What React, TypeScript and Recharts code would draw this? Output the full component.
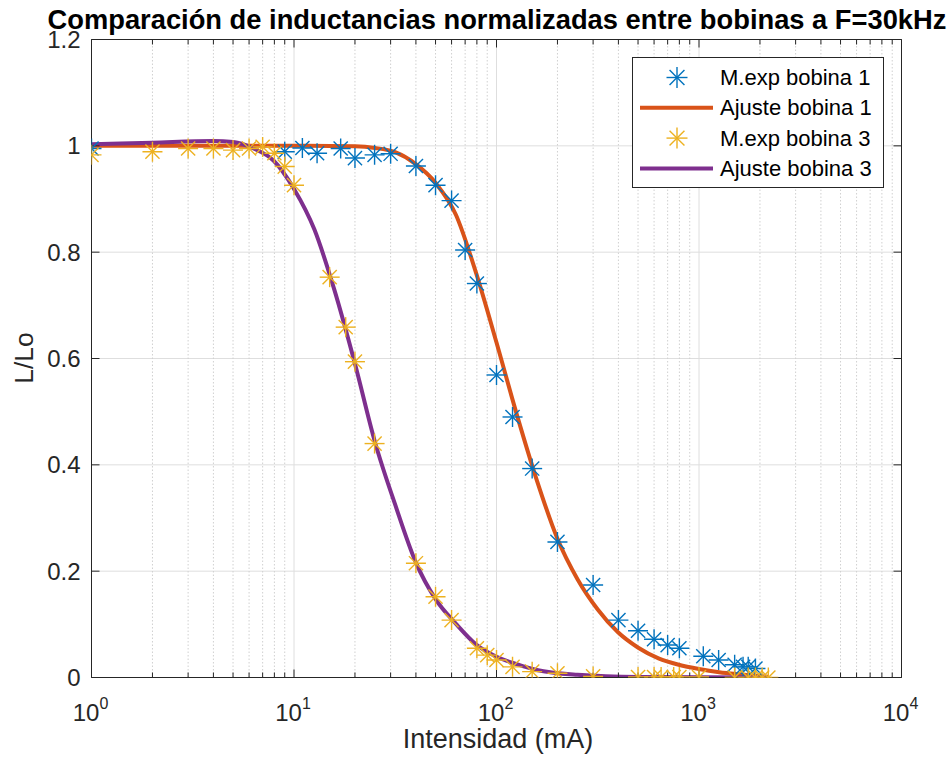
import {
  ComposedChart,
  Line,
  Scatter,
  XAxis,
  YAxis,
  CartesianGrid,
  ReferenceLine,
  Legend,
  Customized,
} from 'recharts';

const FUENTE = '"Liberation Sans", Arial, Helvetica, sans-serif';
const EJE = '#262626';
const AZUL = '#0072BD';
const NARANJA = '#D95319';
const AMARILLO = '#EDB120';
const MORADO = '#7E2F8E';

// Bobina 1: medidas experimentales (mA, L/Lo)
const intensidad1 = [1, 9, 11, 13, 17, 20, 25, 30, 40, 50, 60, 70, 80, 100, 120, 150, 200, 300, 400, 500, 600, 700, 800, 1050, 1250, 1500, 1650, 1750, 1900];
const relacion1 = [0.995, 0.989, 0.996, 0.986, 0.995, 0.977, 0.983, 0.985, 0.962, 0.926, 0.897, 0.804, 0.741, 0.569, 0.49, 0.393, 0.255, 0.174, 0.108, 0.088, 0.072, 0.061, 0.055, 0.04, 0.033, 0.024, 0.02, 0.02, 0.017];

// Bobina 1: curva de ajuste
const ajusteI1 = [1, 3.16, 10, 20, 25.1, 31.6, 39.8, 50.1, 63.1, 79.4, 100, 125.9, 158.5, 199.5, 251.2, 316.2, 398.1, 501.2, 631, 794.3, 1000, 1258.9, 1584.9, 2188];
const ajusteL1 = [1, 1, 1, 0.999, 0.996, 0.988, 0.966, 0.93, 0.87, 0.76, 0.63, 0.495, 0.37, 0.262, 0.185, 0.128, 0.085, 0.056, 0.036, 0.024, 0.016, 0.01, 0.006, 0.0015];

// Bobina 3: medidas experimentales
const intensidad3 = [1, 2, 3, 4, 5, 6, 7, 8, 9, 10, 15, 18, 20, 25, 40, 50, 60, 80, 90, 100, 120, 150, 200, 300, 500, 600, 650, 750, 800, 1000, 1500, 1750, 1900, 2050, 2200];
const relacion3 = [0.983, 0.989, 0.995, 0.995, 0.992, 0.995, 0.998, 0.986, 0.961, 0.926, 0.753, 0.659, 0.594, 0.44, 0.215, 0.152, 0.108, 0.055, 0.042, 0.033, 0.02, 0.011, 0.008, 0.002, 0.001, 0.001, 0.001, 0.001, 0.001, 0.001, 0, 0, 0, 0, 0];

// Bobina 3: curva de ajuste
const ajusteI3 = [1, 2, 3.98, 5.01, 6.31, 7.94, 10, 12.6, 15.8, 20, 25.1, 31.6, 39.8, 50.1, 63.1, 79.4, 100, 126, 158, 251, 501, 2188];
const ajusteL3 = [1.003, 1.006, 1.009, 1.007, 0.995, 0.972, 0.919, 0.843, 0.73, 0.59, 0.443, 0.325, 0.218, 0.147, 0.101, 0.062, 0.039, 0.025, 0.014, 0.005, 0.001, 0];

const ticksX = [1, 10, 100, 1000, 10000];
const ticksY = [0, 0.2, 0.4, 0.6, 0.8, 1, 1.2];
const menoresX = [1, 10, 100, 1000].flatMap((d) => [2, 3, 4, 5, 6, 7, 8, 9].map((k) => d * k));

const leyenda = [
  { nombre: 'M.exp bobina 1', color: AZUL, marca: true },
  { nombre: 'Ajuste bobina 1', color: NARANJA, marca: false },
  { nombre: 'M.exp bobina 3', color: AMARILLO, marca: true },
  { nombre: 'Ajuste bobina 3', color: MORADO, marca: false },
];

const zip = (xs: number[], ys: number[]) => xs.map((x, i) => ({ x, y: ys[i] }));

// tamaño del área de ejes en píxeles, para las marcas interiores
const ANCHO_DECADA = 202.5;
const ALTO_EJE = 638;
const largoX = (px: number) => 10 ** (px / ANCHO_DECADA);
const largoY = (px: number) => (1.2 * px) / ALTO_EJE;

const Asterisco = ({ cx, cy, color, r = 10 }: { cx: number; cy: number; color: string; r?: number }) => {
  const d = r * 0.7071;
  return (
    <g stroke={color} strokeWidth={1.4}>
      <line x1={cx - r} y1={cy} x2={cx + r} y2={cy} />
      <line x1={cx} y1={cy - r} x2={cx} y2={cy + r} />
      <line x1={cx - d} y1={cy - d} x2={cx + d} y2={cy + d} />
      <line x1={cx - d} y1={cy + d} x2={cx + d} y2={cy - d} />
    </g>
  );
};

const TickX = (props: any) => {
  const { x, payload } = props;
  const exp = Math.round(Math.log10(payload.value));
  return (
    <text x={x - 1} y={721} textAnchor="middle" fontSize={24} fill={EJE} fontFamily={FUENTE}>
      10
      <tspan dy={-12} fontSize={16}>
        {exp}
      </tspan>
    </text>
  );
};

const TickY = (props: any) => {
  const { y, payload } = props;
  return (
    <text x={80.5} y={y + 8.5} textAnchor="end" fontSize={24} fill={EJE} fontFamily={FUENTE}>
      {String(payload.value)}
    </text>
  );
};

const Leyenda = () => (
  <svg width={252} height={131} style={{ display: 'block' }}>
    <rect x={0.5} y={0.5} width={251} height={130} fill="#fff" stroke={EJE} />
    {leyenda.map((e, i) => {
      const cy = 20.5 + i * 30.3;
      return (
        <g key={e.nombre}>
          {e.marca ? (
            <Asterisco cx={45} cy={cy} color={e.color} r={10.5} />
          ) : (
            <line x1={8} y1={cy} x2={81} y2={cy} stroke={e.color} strokeWidth={4} />
          )}
          <text x={88} y={cy + 7.5} fontSize={22} fill="#000" fontFamily={FUENTE}>
            {e.nombre}
          </text>
        </g>
      );
    })}
  </svg>
);

const Textos = () => (
  <g fontFamily={FUENTE} fill={EJE}>
    <text x={497} y={29} textAnchor="middle" fontSize={27.3} fontWeight="bold" fill="#000">
      Comparación de inductancias normalizadas entre bobinas a F=30kHz
    </text>
    <text x={498} y={748} textAnchor="middle" fontSize={27}>
      Intensidad (mA)
    </text>
    <text x={33} y={358} textAnchor="middle" fontSize={26.4} transform="rotate(-90 33 358)">
      L/Lo
    </text>
  </g>
);

export default function App() {
  return (
    <div style={{ position: 'absolute', left: 0, top: 0, width: 950, height: 763, background: '#fff' }}>
      <ComposedChart width={950} height={763} margin={{ top: 39.5, right: 48.5, bottom: 0, left: 0 }}>
        <CartesianGrid stroke="#dedede" />
        <XAxis
          type="number"
          dataKey="x"
          scale="log"
          domain={[1, 10000]}
          ticks={ticksX}
          interval={0}
          allowDataOverflow
          height={85.5}
          tick={<TickX />}
          tickLine={false}
          axisLine={{ stroke: EJE }}
        />
        <YAxis
          type="number"
          dataKey="y"
          domain={[0, 1.2]}
          ticks={ticksY}
          interval={0}
          allowDataOverflow
          width={91.5}
          tick={<TickY />}
          tickLine={false}
          axisLine={{ stroke: EJE }}
        />

        {/* rejilla menor punteada */}
        {menoresX.map((v) => (
          <ReferenceLine key={`g-${v}`} x={v} stroke="#d0d0d0" strokeDasharray="1.5 2" />
        ))}

        <Scatter
          name="M.exp bobina 1"
          data={zip(intensidad1, relacion1)}
          fill={AZUL}
          shape={(p: any) => <Asterisco cx={p.cx} cy={p.cy} color={AZUL} />}
          isAnimationActive={false}
        />
        <Line
          name="Ajuste bobina 1"
          data={zip(ajusteI1, ajusteL1)}
          dataKey="y"
          type="monotone"
          stroke={NARANJA}
          strokeWidth={4}
          dot={false}
          activeDot={false}
          isAnimationActive={false}
        />
        <Scatter
          name="M.exp bobina 3"
          data={zip(intensidad3, relacion3)}
          fill={AMARILLO}
          shape={(p: any) => <Asterisco cx={p.cx} cy={p.cy} color={AMARILLO} />}
          isAnimationActive={false}
        />
        <Line
          name="Ajuste bobina 3"
          data={zip(ajusteI3, ajusteL3)}
          dataKey="y"
          type="monotone"
          stroke={MORADO}
          strokeWidth={4}
          dot={false}
          activeDot={false}
          isAnimationActive={false}
        />

        {/* caja de los ejes */}
        <ReferenceLine y={1.2} stroke={EJE} />
        <ReferenceLine x={10000} stroke={EJE} />

        {/* marcas interiores del eje x, abajo y arriba */}
        {[...ticksX.map((v) => [v, 8]), ...menoresX.map((v) => [v, 5])].flatMap(([v, px]) => [
          <ReferenceLine
            key={`xb-${v}`}
            segment={[{ x: v, y: 0 }, { x: v, y: largoY(px) }]}
            stroke={EJE}
          />,
          <ReferenceLine
            key={`xt-${v}`}
            segment={[{ x: v, y: 1.2 }, { x: v, y: 1.2 - largoY(px) }]}
            stroke={EJE}
          />,
        ])}
        {/* marcas interiores del eje y, izquierda y derecha */}
        {ticksY.flatMap((v) => [
          <ReferenceLine
            key={`yl-${v}`}
            segment={[{ x: 1, y: v }, { x: largoX(8), y: v }]}
            stroke={EJE}
          />,
          <ReferenceLine
            key={`yr-${v}`}
            segment={[{ x: 10000, y: v }, { x: 10000 / largoX(8), y: v }]}
            stroke={EJE}
          />,
        ])}

        <Legend
          layout="horizontal"
          verticalAlign="middle"
          align="center"
          content={() => <Leyenda />}
          wrapperStyle={{ left: 632, top: 57, right: 'auto', bottom: 'auto', width: 252, height: 131 }}
        />
        <Customized component={<Textos />} />
      </ComposedChart>
    </div>
  );
}
